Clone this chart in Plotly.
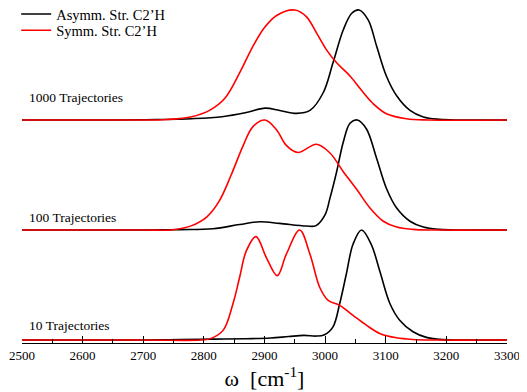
import plotly.graph_objects as go

# ---------------- data (normalised intensities) -------------
# 10 trajectories
w_10_asym = [2500, 2700, 2760, 2815, 2870, 2910, 2940, 2965, 2985, 2998, 3013, 3024, 3035, 3046, 3060,
             3076, 3090, 3107, 3123, 3145, 3167, 3189, 3220, 3300]
i_10_asym = [0.0, 0.0, 0.004, 0.008, 0.012, 0.018, 0.032, 0.042, 0.036, 0.045, 0.12, 0.33, 0.60, 0.87, 1.0,
             0.87, 0.63, 0.33, 0.18, 0.075, 0.024, 0.006, 0.0, 0.0]
w_10_sym = [2500, 2700, 2795, 2812, 2832, 2848, 2859, 2870, 2886, 2903, 2921, 2936, 2958,
            2975, 2991, 3005, 3024, 3046, 3068, 3090, 3118, 3145, 3180, 3300]
i_10_sym = [0.0, 0.0, 0.0, 0.015, 0.09, 0.33, 0.57, 0.81, 0.94, 0.75, 0.585, 0.78, 1.0,
            0.78, 0.48, 0.36, 0.315, 0.225, 0.135, 0.06, 0.02, 0.005, 0.0, 0.0]

# 100 trajectories
w_100_asym = [2500, 2700, 2760, 2815, 2859, 2892, 2925, 2969, 2985, 3000, 3008, 3019, 3030,
              3041, 3053, 3068, 3085, 3101, 3118, 3140, 3162, 3189, 3220, 3300]
i_100_asym = [0.0, 0.0, 0.004, 0.012, 0.05, 0.075, 0.06, 0.036, 0.04, 0.14, 0.29, 0.53, 0.80,
              0.97, 1.0, 0.92, 0.65, 0.38, 0.20, 0.08, 0.027, 0.006, 0.0, 0.0]
w_100_sym = [2500, 2700, 2750, 2780, 2805, 2825, 2845, 2865, 2881, 2901, 2920, 2936, 2955,
             2986, 3008, 3030, 3052, 3074, 3096, 3118, 3145, 3180, 3300]
i_100_sym = [0.0, 0.0, 0.003, 0.04, 0.12, 0.26, 0.50, 0.77, 0.94, 1.0, 0.91, 0.77, 0.705,
             0.78, 0.70, 0.53, 0.37, 0.20, 0.08, 0.027, 0.006, 0.0, 0.0]

# 1000 trajectories
w_1000_asym = [2500, 2650, 2720, 2780, 2830, 2870, 2901, 2925, 2953, 2975, 2997, 3013, 3030, 3044,
               3056, 3071, 3085, 3101, 3118, 3140, 3162, 3189, 3220, 3300]
i_1000_asym = [0.0, 0.0, 0.004, 0.012, 0.03, 0.068, 0.108, 0.087, 0.06, 0.087, 0.25, 0.52, 0.82, 0.97,
               1.0, 0.91, 0.67, 0.40, 0.22, 0.087, 0.027, 0.006, 0.0, 0.0]
w_1000_sym = [2500, 2680, 2740, 2780, 2810, 2835, 2860, 2880, 2900, 2920, 2950, 2969,
              2986, 3002, 3019, 3041, 3060, 3079, 3101, 3134, 3170, 3300]
i_1000_sym = [0.0, 0.0, 0.005, 0.03, 0.09, 0.20, 0.44, 0.66, 0.84, 0.95, 1.0, 0.94,
              0.79, 0.64, 0.52, 0.40, 0.27, 0.15, 0.057, 0.012, 0.0, 0.0]

panel_labels = ["10 Trajectories", "100 Trajectories", "1000 Trajectories"]
series_names = ["Asymm. Str. C2\u2019H", "Symm. Str. C2\u2019H"]
x_ticks = [2500, 2600, 2700, 2800, 2900, 3000, 3100, 3200, 3300]

# ---------------- layout / style constants ----------------
OFFSETS = [0.0, 1.0, 2.0]          # vertical stacking of the three spectra
LABEL_DY = [0.135, 0.117, 0.207]   # label height above each baseline
COLORS = ["black", "#ff0000"]
LEGEND_IDS = ["legend", "legend2"]
LEGEND_Y = [0.985, 0.936]          # paper y of the two legend rows
FONT = "Liberation Serif"

panels = [
    (w_10_asym, i_10_asym, w_10_sym, i_10_sym),
    (w_100_asym, i_100_asym, w_100_sym, i_100_sym),
    (w_1000_asym, i_1000_asym, w_1000_sym, i_1000_sym),
]

fig = go.Figure()
for k, (wa, ia, ws, is_) in enumerate(panels):
    off = OFFSETS[k]
    for j, (xx, yy) in enumerate([(wa, ia), (ws, is_)]):
        fig.add_trace(go.Scatter(
            x=xx, y=[v + off for v in yy], mode="lines",
            line=dict(color=COLORS[j], width=1.6, shape="spline", smoothing=1.0),
            name=series_names[j], showlegend=(k == 0), legend=LEGEND_IDS[j],
            cliponaxis=False, hoverinfo="skip"))

for k, lab in enumerate(panel_labels):
    fig.add_annotation(x=2509, y=OFFSETS[k] + LABEL_DY[k], xref="x", yref="y", text=lab,
                       showarrow=False, xanchor="left", yanchor="middle",
                       font=dict(family=FONT, size=13.5, color="black"))

legend_style = dict(x=-0.012, xanchor="left", yanchor="middle", xref="paper", yref="paper",
                    bgcolor="rgba(0,0,0,0)", borderwidth=0,
                    font=dict(family=FONT, size=14.5, color="black"), itemwidth=30)

# the page body has an 8px margin, so the figure is 8px smaller than the window
fig.update_layout(
    width=519, height=384,
    margin=dict(l=14, r=20, t=1, b=49, autoexpand=False),
    paper_bgcolor="white", plot_bgcolor="white",
    font=dict(family=FONT, color="black"),
    showlegend=True,
    legend=dict(y=LEGEND_Y[0], **legend_style),
    legend2=dict(y=LEGEND_Y[1], **legend_style),
    xaxis=dict(range=[2500, 3300], tickvals=x_ticks, ticktext=[str(t) for t in x_ticks],
               showgrid=False, zeroline=False, showline=True, linecolor="black", linewidth=1,
               ticks="inside", ticklen=7, tickwidth=1, tickcolor="black",
               minor=dict(dtick=50, ticks="inside", ticklen=4, tickcolor="black", tickwidth=1,
                          showgrid=False),
               tickfont=dict(family=FONT, size=13, color="black"),
               title=dict(text="\u03c9  [cm<sup>-1</sup>]", standoff=6,
                          font=dict(family=FONT, size=22, color="black"))),
    yaxis=dict(range=[-0.027, 3.009], visible=False, showgrid=False, zeroline=False),
)

fig.write_html("out.html")
